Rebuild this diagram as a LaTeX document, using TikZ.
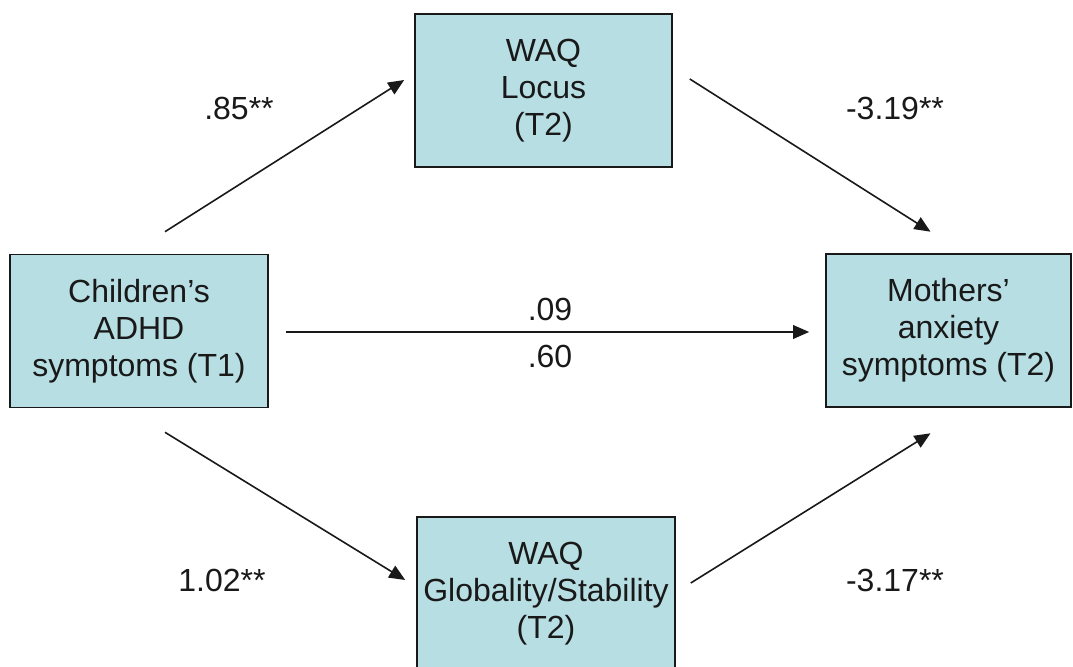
\documentclass[tikz,border=0pt]{standalone}
\usepackage{fontspec}
\setmainfont{Liberation Sans}
\usetikzlibrary{arrows.meta}
\definecolor{boxfill}{RGB}{183,222,227}
\definecolor{ink}{RGB}{25,25,25}

\begin{document}
\begin{tikzpicture}[x=0.5pt, y=-0.5pt,
    varbox/.style={draw=ink, line width=0.8pt, fill=boxfill, align=center, inner sep=0pt,
        minimum height=76.5pt, text=ink, font=\fontsize{16}{18.5}\selectfont},
    coef/.style={text=ink, font=\fontsize{16}{18.5}\selectfont},
    link/.style={draw=ink, line width=0.8pt, -{Triangle[length=8pt,width=6.8pt]}}]

    \useasboundingbox (0,0) rectangle (1073,667);

    % Boxes
    \node[varbox, minimum width=129pt] (child) at (139,331) {Children’s\\ADHD\\symptoms (T1)};
    \node[varbox, minimum width=128.5pt] (locus) at (543.5,90.5) {WAQ\\Locus\\(T2)};
    \node[varbox, minimum width=122.5pt] (mother) at (948.5,330.5) {Mothers’\\anxiety\\symptoms (T2)};
    \node[varbox, minimum width=129pt] (glob) at (546,593.5) {WAQ\\Globality/Stability\\(T2)};

    % Paths
    \draw[link] ([shift={(26,-22)}]child.north) -- ([shift={(-10,-10.5)}]locus.west);
    \draw[link] ([shift={(17,-11.5)}]locus.east) -- ([shift={(-18,-21.5)}]mother.north);
    \draw[link] ([shift={(17,1)}]child.east) -- ([shift={(-16,1.5)}]mother.west);
    \draw[link] ([shift={(26,24)}]child.south) -- ([shift={(-11,-13.5)}]glob.west);
    \draw[link] ([shift={(15,-10.5)}]glob.east) -- ([shift={(-18,25.5)}]mother.south);

    % Coefficients
    \node[coef] (c85) at (239,108) {.85**};
    \node[coef] (c319) at (895,108) {-3.19**};
    \node[coef] (c09) at (550,309) {.09};
    \node[coef] (c60) at (550,356) {.60};
    \node[coef] (c102) at (222,580) {1.02**};
    \node[coef] (c317) at (895,580) {-3.17**};
\end{tikzpicture}
\end{document}
